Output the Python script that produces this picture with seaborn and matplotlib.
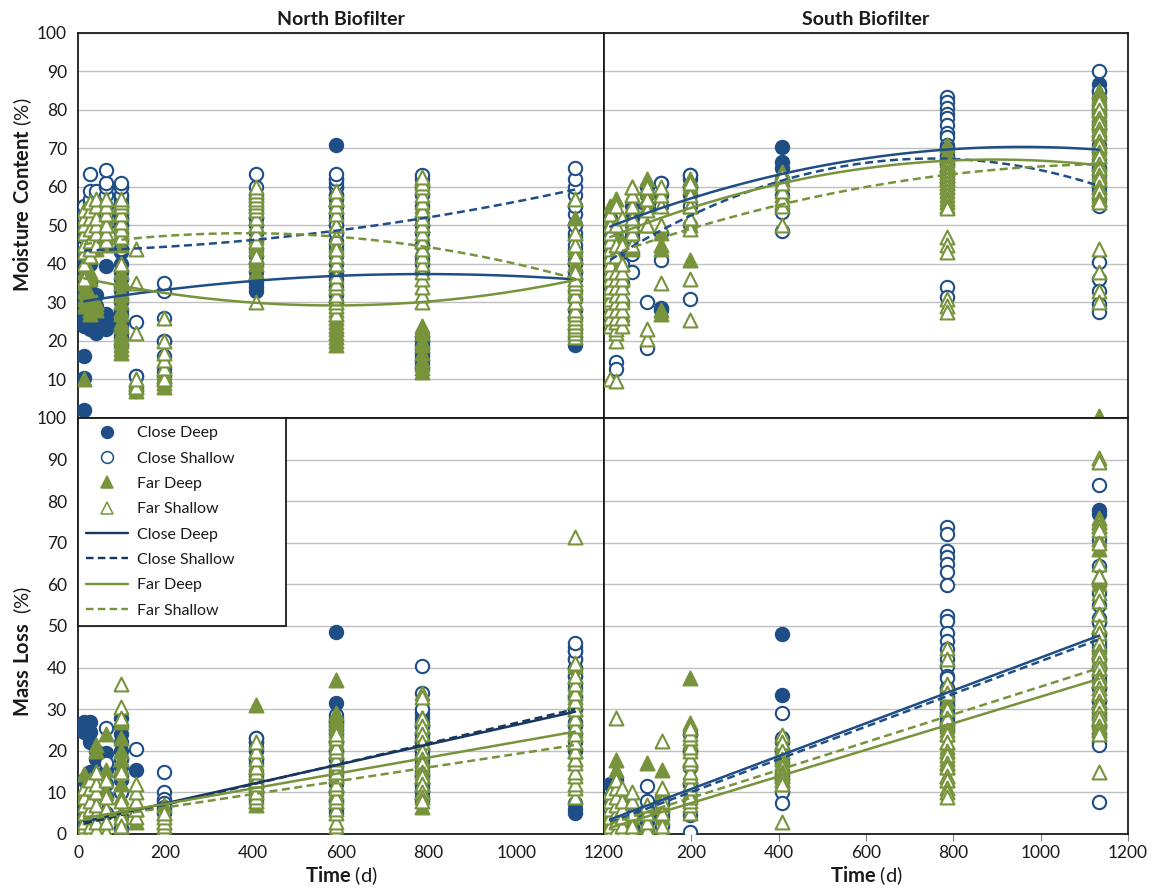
import numpy as np
import pandas as pd
import matplotlib
matplotlib.use("Agg")
import matplotlib.pyplot as plt
from matplotlib.lines import Line2D
import seaborn as sns

GROUPS = ["Close Deep", "Close Shallow", "Far Deep", "Far Shallow"]

# ---------------- North biofilter: moisture content (%) by sampling day ----------------
north_mc_close_deep = {
    14: [2, 10.5, 16, 24, 25, 26, 27, 28, 30, 32, 34, 38, 41],
    28: [23, 24, 25, 26, 27, 28, 29, 31, 35, 40],
    42: [22, 23, 24, 25, 26, 27, 28, 29, 32],
    63: [23, 24, 25, 26, 27, 39.5],
    98: [19, 21, 22, 24, 25, 27, 28, 30, 31, 33, 34, 36, 38, 40, 43, 44, 50, 52, 53, 55, 56, 58, 60],
    133: [7, 8, 11],
    196: [9, 11, 13, 20],
    406: [33, 34, 35, 36, 38, 40, 42, 44, 46, 48, 50, 52, 54, 57],
    588: [71, 30, 32, 34, 36, 38, 40, 42, 44, 46, 48, 50, 52, 55, 58, 60, 62],
    784: [13, 14, 15, 16, 17, 18, 19, 20, 21, 38, 41, 45, 50],
    1134: [19, 21, 23, 26, 28, 31, 33, 36, 38, 41, 44, 47, 50, 55],
}
north_mc_close_shallow = {
    14: [43, 45, 47, 49, 50, 52, 54, 55],
    28: [48, 50, 53, 55, 56, 57, 59, 63.5],
    42: [48, 50, 52, 55, 58, 59],
    63: [50, 53, 55, 58, 60, 61, 64.5],
    98: [44, 46, 48, 50, 52, 54, 55, 57, 58, 60, 61],
    133: [11, 25],
    196: [12, 16, 20, 26, 33, 35],
    406: [52, 55, 58, 60, 63.5],
    588: [45, 48, 50, 53, 55, 57, 58, 60, 61, 62, 63.5],
    784: [40, 42, 45, 48, 50, 52, 55, 58, 60, 62, 63],
    1134: [38, 40, 43, 45, 48, 50, 53, 55, 58, 60, 62, 65],
}
north_mc_far_deep = {
    14: [10, 29, 31, 33, 35, 38, 45],
    28: [27, 28, 29, 30, 32, 36, 38, 42, 46],
    42: [28, 29, 30, 44, 46, 48],
    63: [45, 47, 50, 52, 55],
    98: [17, 18, 19, 20, 21, 22, 24, 25, 27, 28, 30, 32, 33, 35, 36, 38, 40, 45, 48, 50, 53, 55],
    133: [7, 8, 9],
    196: [8, 9, 10, 11, 12],
    406: [38, 40, 41, 42, 44, 45, 47, 48, 50, 52, 55, 58],
    588: [19, 20, 21, 22, 23, 24, 25, 26, 27, 28, 30, 35, 40, 45, 50, 55, 57],
    784: [12, 13, 14, 15, 17, 19, 20, 22, 23, 24, 46, 50, 55, 60, 62],
    1134: [25, 28, 30, 33, 36, 38, 40, 42, 44, 48, 52],
}
north_mc_far_shallow = {
    14: [36, 40, 43, 45, 48, 50, 52, 54],
    28: [42, 44, 46, 49, 52, 54, 56],
    42: [45, 48, 50, 52, 55, 57],
    63: [46, 48, 50, 53, 55, 57],
    98: [40, 47, 49, 51, 53, 55, 56, 57],
    133: [8, 10, 22, 35, 44],
    196: [10, 13, 15, 17, 20, 26],
    406: [30, 42, 46, 48, 50, 52, 54, 55, 56, 57, 58, 59, 60],
    588: [27, 29, 30, 32, 34, 35, 37, 40, 42, 44, 47, 50, 53, 55, 57, 59],
    784: [30, 32, 34, 36, 38, 40, 42, 44, 46, 48, 50, 52, 54, 56, 58, 60, 61, 62.5],
    1134: [21, 22, 23, 24, 25, 26, 27, 28, 30, 32, 34, 35, 36, 38, 42, 45, 48, 57],
}

# ---------------- South biofilter: moisture content (%) by sampling day ----------------
south_mc_close_deep = {
    14: [42, 45, 48, 50, 52],
    28: [35, 40, 44, 47],
    42: [38, 42, 45],
    63: [48, 52, 55],
    98: [55, 58, 60],
    131: [61, 58, 28.5, 28],
    197: [63, 62, 60, 58],
    408: [70.5, 66.5, 65, 62],
    786: [70, 68, 67, 66, 64, 63, 61],
    1134: [86.7, 85, 80, 75, 70, 65, 60],
}
south_mc_close_shallow = {
    14: [26, 30, 33, 36, 38, 42],
    28: [14.5, 12.7, 25, 28, 33, 37],
    42: [30, 35, 40],
    63: [42.5, 38, 47, 50],
    98: [30, 18.2, 55],
    131: [41, 48, 55, 61],
    197: [31, 50, 55, 60, 63],
    408: [53.5, 48.5, 58],
    786: [83.3, 82, 80.5, 79, 78, 76, 74, 73, 71, 70, 68, 66, 34, 31.5],
    1134: [90, 85, 83, 81, 79, 77, 75, 73, 71, 69, 67, 65, 63, 61, 59, 57, 55, 40.5, 36, 33, 29.5, 27.5],
}
south_mc_far_deep = {
    14: [28, 30, 32, 34, 36, 38, 40, 42, 44, 52, 55],
    28: [30, 32, 34, 36, 38, 42, 47, 57],
    42: [27, 31, 36, 40, 46],
    63: [44, 50, 55, 58, 60],
    98: [50, 55, 59, 62],
    131: [48, 45, 44, 28, 27],
    197: [41, 50, 55, 60, 62],
    408: [56, 58, 62, 64],
    786: [71, 69, 68, 67, 66, 65, 64, 63, 62, 61, 60],
    1134: [85, 84, 83, 82, 81, 80, 79, 78, 76, 74, 72, 70, 68, 66, 64, 62, 60, 58, 57, 0.5],
}
south_mc_far_shallow = {
    14: [10, 24, 26, 28, 30, 31, 33, 34, 36, 38, 40, 42, 44, 46, 48, 50, 53],
    28: [9.5, 20, 22, 23, 25, 26, 28, 30, 32, 34, 36, 38, 42, 45, 50, 55],
    42: [24, 26, 28, 30, 32, 34, 36, 38, 40, 45, 52],
    63: [45, 48, 50, 52, 55, 58, 60],
    98: [20.5, 23, 50, 54, 57, 60],
    131: [35, 50, 55, 58, 60],
    197: [25.5, 36, 49, 52, 55, 58, 61],
    408: [50, 55, 57, 59, 61, 63],
    786: [66, 65, 64, 63, 62, 61, 60, 59, 58, 57, 56, 55, 54.5, 47, 45, 43, 31, 29, 27.5],
    1134: [82, 80, 78, 77, 75, 74, 72, 71, 69, 68, 66, 65, 63, 62, 60, 59, 57, 56, 44, 38, 33, 30],
}

# ---------------- North biofilter: mass loss (%) by sampling day ----------------
north_ml_close_deep = {
    14: [13, 27, 24.5, 8, 5],
    28: [27, 24.5, 22, 15],
    42: [18, 20, 12],
    63: [19.5, 15.5, 12, 9],
    98: [10, 13, 16, 18, 20, 22, 24, 26, 28],
    133: [15.5],
    196: [6, 8],
    406: [8, 9, 11, 12, 14, 15, 17, 18, 20, 21, 22, 23],
    588: [48.5, 31.5, 28, 27, 26, 24, 22, 20, 18, 16, 14, 12, 10, 8, 6],
    784: [29, 28, 27, 26, 24, 23, 22, 20, 19, 17, 15, 14, 12, 10],
    1134: [5, 6, 7.5, 20, 24, 27, 30, 33, 35, 38, 40, 42, 44, 45],
}
north_ml_close_shallow = {
    14: [0.5, 2, 4],
    28: [1, 6, 10],
    42: [12, 7],
    63: [25.5, 17, 9, 5],
    98: [1.5, 4, 10, 14, 18],
    133: [20.5],
    196: [15, 10, 8.5, 7.5, 6.5, 5],
    406: [10, 13, 18, 22, 23],
    588: [5, 8, 10, 13, 15, 18, 20, 22, 25, 27, 28.5],
    784: [40.3, 34, 30, 26, 24, 22, 20, 18, 16, 14, 12, 11, 9, 8],
    1134: [22, 26, 30, 33, 36, 38, 40, 42, 44, 46],
}
north_ml_far_deep = {
    14: [14.5, 10, 5],
    28: [12, 8, 3, 0.5],
    42: [21.5, 20, 15, 6],
    63: [24, 15.5, 10],
    98: [2, 5, 9, 12, 16, 18, 20, 23, 27],
    133: [3, 6],
    196: [1, 3, 5, 7],
    406: [31, 7, 8, 10, 11, 13, 14, 16, 17],
    588: [37, 29, 28, 27, 26, 25, 24, 22, 20, 18, 16, 14, 12, 10, 8],
    784: [6.5, 10, 12, 14, 16, 18, 20, 22, 24, 26, 28],
    1134: [18, 20, 22, 25, 26, 28, 30, 33, 35, 38, 40.5],
}
north_ml_far_shallow = {
    14: [1, 2, 3, 5, 7, 9, 11],
    28: [0.5, 2, 4, 6, 8, 11, 13],
    42: [1, 3, 5, 7, 10, 12, 15],
    63: [0.5, 3, 6, 9, 13],
    98: [36, 30.5, 28, 15, 8, 4, 2],
    133: [4, 6, 8, 10, 12],
    196: [1, 2, 3, 4, 5],
    406: [8, 9, 10, 12, 13, 15, 16, 18, 20, 22],
    588: [0.5, 2, 3, 5, 6, 8, 9, 11, 12, 14, 15, 17, 18, 20, 21, 23, 24],
    784: [34, 33, 28, 26, 24, 22, 20, 18, 17, 15, 14, 12, 10, 9, 8],
    1134: [71.5, 9, 11, 12, 14, 15, 17, 18, 20, 22, 24, 26, 28, 30, 32, 34, 36, 38, 41],
}

# ---------------- South biofilter: mass loss (%) by sampling day ----------------
south_ml_close_deep = {
    14: [2, 5, 8, 12],
    28: [3, 6, 9, 13],
    42: [1, 4, 7],
    63: [2, 5],
    98: [3, 6],
    133: [4, 7, 9],
    196: [8, 12, 16, 20, 24],
    408: [48, 33.5, 22, 20, 18, 17, 15, 14, 13],
    786: [35, 34, 33, 32, 31, 30, 29, 28, 27, 26, 25],
    1134: [78, 77, 52, 51, 48, 45, 42, 40, 37, 35, 32, 30, 28, 26],
}
south_ml_close_shallow = {
    14: [0.5, 3, 6, 9],
    28: [1, 4, 8],
    42: [0.5, 3, 6],
    63: [1, 4],
    98: [11.5, 8, 4, 1],
    133: [2, 5, 8],
    196: [0.5, 4.5, 8, 12, 16, 20, 24],
    408: [29, 23, 20, 10, 7.5],
    786: [73.8, 72.2, 68, 66.5, 65, 63, 59.8, 52.3, 51.3, 48.4, 46.5, 44.5, 42, 40.3, 38, 37.5,
          35, 33, 31, 29, 27],
    1134: [84, 70.6, 64.5, 60, 58, 55, 51, 48, 46, 44, 42, 40, 38, 35, 32, 29, 26, 24, 22, 21.4, 7.7],
}
south_ml_far_deep = {
    14: [0.5, 3, 5, 8],
    28: [17.8, 15.5, 12],
    42: [2, 6, 10],
    63: [1, 4],
    98: [17, 5, 2],
    133: [15.4, 10, 7, 4],
    196: [37.4, 26.6, 22, 18, 14, 10],
    408: [22, 21, 19, 18, 16, 15, 14, 13, 12],
    786: [34, 32, 30, 28, 27, 26, 24, 22, 21, 20, 18, 17, 16, 14, 13],
    1134: [76, 75, 74, 71, 68.5, 62, 61.3, 60, 50, 45, 42, 40, 37, 35, 32, 30, 28, 27, 25],
}
south_ml_far_shallow = {
    14: [0.5, 2, 4, 6, 8, 10],
    28: [28, 1, 3, 5, 7, 9, 11, 13],
    42: [0.5, 2, 4, 6, 8, 11],
    63: [0.5, 2, 5, 8, 10],
    98: [1, 3, 5, 7],
    133: [22.3, 0.5, 2, 5, 8, 11],
    196: [5, 7, 8, 9, 11, 12, 14, 15, 17, 18, 20, 21, 23, 24, 25.5],
    408: [23.8, 22, 20, 18, 17, 16, 15, 14, 13, 12, 2.8],
    786: [44.8, 42, 36, 34, 30, 28, 25, 24, 22, 20, 19, 17, 16, 14, 13, 11, 10, 8.9],
    1134: [90.3, 89.5, 75, 74, 73, 70, 65, 62, 58, 56, 53, 50, 48.4, 46, 44, 43, 41, 40, 38, 37,
           35, 34, 32, 31, 29, 28, 26, 25, 24, 14.9],
}

# ---------------- Trend lines: values along each fitted curve ----------------
north_mc_trend_days = [14, 196, 406, 588, 784, 1134]
north_mc_trend_close_deep = [30.5, 33.0, 35.6, 36.9, 37.6, 35.9]
north_mc_trend_close_shallow = [43.3, 44.8, 46.3, 48.5, 51.8, 59.4]
north_mc_trend_far_deep = [36.0, 33.0, 29.9, 29.0, 30.1, 35.9]
north_mc_trend_far_shallow = [45.5, 46.8, 47.8, 47.2, 45.0, 36.0]

south_mc_trend_days = [14, 197, 408, 786, 1134]
south_mc_trend_close_deep = [49.7, 57.0, 63.4, 69.7, 69.7]
south_mc_trend_close_shallow = [41.0, 52.3, 62.2, 66.9, 60.4]
south_mc_trend_far_deep = [47.0, 54.5, 60.9, 66.9, 65.6]
south_mc_trend_far_shallow = [42.0, 49.7, 55.3, 63.0, 66.0]

ml_trend_days = [14, 1134]
north_ml_trend_close_deep = [3.0, 29.4]
north_ml_trend_close_shallow = [2.5, 30.0]
north_ml_trend_far_deep = [3.8, 24.6]
north_ml_trend_far_shallow = [3.4, 21.4]
south_ml_trend_close_deep = [3.5, 47.7]
south_ml_trend_close_shallow = [2.8, 46.8]
south_ml_trend_far_deep = [1.5, 37.3]
south_ml_trend_far_shallow = [2.5, 39.9]

# ---------------- Styling ----------------
NAVY = "#1F4E87"
NAVY_DARK = "#17375E"
GREEN = "#77933C"
GRID = "#BFBFBF"
TEXT = "#1A1A1A"

MARKERS = {
    "Close Deep": dict(marker="o", s=92, color=NAVY, edgecolor=NAVY),
    "Close Shallow": dict(marker="o", s=92, color="white", edgecolor=NAVY),
    "Far Deep": dict(marker="^", s=100, color=GREEN, edgecolor=GREEN),
    "Far Shallow": dict(marker="^", s=100, color="white", edgecolor=GREEN),
}
DASH = (0, (3.2, 1.8))
LINES = {
    "Close Deep": dict(color=NAVY, ls="-"),
    "Close Shallow": dict(color=NAVY, ls=DASH),
    "Far Deep": dict(color=GREEN, ls="-"),
    "Far Shallow": dict(color=GREEN, ls=DASH),
}


def to_long(parts):
    rows = []
    for group, table in zip(GROUPS, parts):
        for day, vals in table.items():
            for v in vals:
                rows.append((group, day, v))
    return pd.DataFrame(rows, columns=["group", "day", "value"])


def draw_points(ax, df):
    for g in GROUPS:
        st = MARKERS[g]
        sns.scatterplot(data=df[df["group"] == g], x="day", y="value", ax=ax,
                        marker=st["marker"], s=st["s"], color=st["color"],
                        edgecolor=st["edgecolor"], linewidth=1.5,
                        legend=False, zorder=3)


def draw_trends(ax, days, curves, order, colors=None):
    for g, vals in zip(GROUPS, curves):
        st = LINES[g]
        col = (colors or {}).get(g, st["color"])
        sns.regplot(x=np.asarray(days, float), y=np.asarray(vals, float), ax=ax,
                    order=order, scatter=False, ci=None, truncate=True,
                    color=col, line_kws=dict(linestyle=st["ls"], linewidth=1.8, zorder=4))


sns.set_theme(style="white")
plt.rcParams["font.family"] = ["Lato", "DejaVu Sans"]
plt.rcParams["mathtext.fontset"] = "custom"
plt.rcParams["mathtext.rm"] = "Lato"
plt.rcParams["mathtext.bf"] = "Lato:bold"

fig = plt.figure(figsize=(11.57, 8.90), dpi=100)
fig.patch.set_facecolor("white")
L0, LW = 78 / 1157, 526 / 1157
R0, RW = 604 / 1157, 524 / 1157
T0, TH = 1 - 418 / 890, 385 / 890
B0, BH = 1 - 834 / 890, 416 / 890

ax_nm = fig.add_axes([L0, T0, LW, TH])
ax_sm = fig.add_axes([R0, T0, RW, TH])
ax_nl = fig.add_axes([L0, B0, LW, BH])
ax_sl = fig.add_axes([R0, B0, RW, BH])

panels = [
    (ax_nm, [north_mc_close_deep, north_mc_close_shallow, north_mc_far_deep, north_mc_far_shallow],
     north_mc_trend_days,
     [north_mc_trend_close_deep, north_mc_trend_close_shallow, north_mc_trend_far_deep, north_mc_trend_far_shallow],
     2, None),
    (ax_sm, [south_mc_close_deep, south_mc_close_shallow, south_mc_far_deep, south_mc_far_shallow],
     south_mc_trend_days,
     [south_mc_trend_close_deep, south_mc_trend_close_shallow, south_mc_trend_far_deep, south_mc_trend_far_shallow],
     2, None),
    (ax_nl, [north_ml_close_deep, north_ml_close_shallow, north_ml_far_deep, north_ml_far_shallow],
     ml_trend_days,
     [north_ml_trend_close_deep, north_ml_trend_close_shallow, north_ml_trend_far_deep, north_ml_trend_far_shallow],
     1, {"Close Deep": NAVY_DARK, "Close Shallow": NAVY_DARK}),
    (ax_sl, [south_ml_close_deep, south_ml_close_shallow, south_ml_far_deep, south_ml_far_shallow],
     ml_trend_days,
     [south_ml_trend_close_deep, south_ml_trend_close_shallow, south_ml_trend_far_deep, south_ml_trend_far_shallow],
     1, None),
]

for ax, parts, tdays, tcurves, order, colors in panels:
    ax.set_xlim(0, 1200)
    ax.set_ylim(0, 100)
    ax.set_yticks(np.arange(0, 101, 10))
    ax.set_xticks(np.arange(0, 1201, 200))
    ax.yaxis.grid(True, color=GRID, linewidth=1.0)
    ax.xaxis.grid(False)
    ax.set_axisbelow(True)
    draw_points(ax, to_long(parts))
    draw_trends(ax, tdays, tcurves, order, colors)
    ax.set_xlabel("")
    ax.set_ylabel("")
    for sp in ax.spines.values():
        sp.set_visible(True)
        sp.set_color("#1A1A1A")
        sp.set_linewidth(1.3)
    ax.tick_params(axis="both", which="both", direction="out", length=5, width=0.8,
                   color="#808080", labelsize=12.5, labelcolor=TEXT, pad=3)

# tick label visibility per panel
ax_nm.tick_params(axis="x", bottom=False, labelbottom=False)
ax_sm.tick_params(axis="x", bottom=False, labelbottom=False)
ax_sm.tick_params(axis="y", left=False, labelleft=False)
ax_sl.tick_params(axis="y", left=False, labelleft=False)
ax_nm.set_yticks(np.arange(10, 101, 10))
ax_sl.set_xticks(np.arange(200, 1201, 200))
ax_sl.tick_params(axis="x", bottom=True, length=5)

ax_nm.set_title("North Biofilter", fontsize=14, fontweight="bold", color=TEXT, pad=6)
ax_sm.set_title("South Biofilter", fontsize=14, fontweight="bold", color=TEXT, pad=6)

ax_nm.set_ylabel(r"$\mathbf{Moisture\ Content}$ (%)", fontsize=14.5, color=TEXT)
ax_nm.yaxis.set_label_coords(-0.083, 0.58)
ax_nl.set_ylabel(r"$\mathbf{Mass\ Loss}$  (%)", fontsize=14.5, color=TEXT)
ax_nl.yaxis.set_label_coords(-0.083, 0.44)
for ax in (ax_nl, ax_sl):
    ax.set_xlabel(r"$\mathbf{Time}$ (d)", fontsize=14.5, color=TEXT, labelpad=2)

# legend: marker entries then trend-line entries
handles = []
for g in GROUPS:
    st = MARKERS[g]
    handles.append(Line2D([], [], linestyle="none", marker=st["marker"], markersize=8.5,
                          markerfacecolor=st["color"], markeredgecolor=st["edgecolor"],
                          markeredgewidth=1.1, label=g))
line_cols = {"Close Deep": NAVY_DARK, "Close Shallow": NAVY_DARK, "Far Deep": GREEN, "Far Shallow": GREEN}
for g in GROUPS:
    handles.append(Line2D([], [], color=line_cols[g], linestyle=LINES[g]["ls"], linewidth=1.7, label=g))
leg = ax_nl.legend(handles=handles, loc="upper left", bbox_to_anchor=(0.0, 0.0, 0.395, 1.0),
                   mode="expand", borderaxespad=0.0, frameon=True, fancybox=False, framealpha=1,
                   edgecolor="#1A1A1A", fontsize=11.5, handlelength=2.6,
                   labelspacing=0.7, borderpad=0.5, handletextpad=0.6)
leg.get_frame().set_linewidth(1.3)
leg.set_zorder(10)
for t in leg.get_texts():
    t.set_color(TEXT)

fig.savefig("out.png", dpi=100, facecolor="white")
